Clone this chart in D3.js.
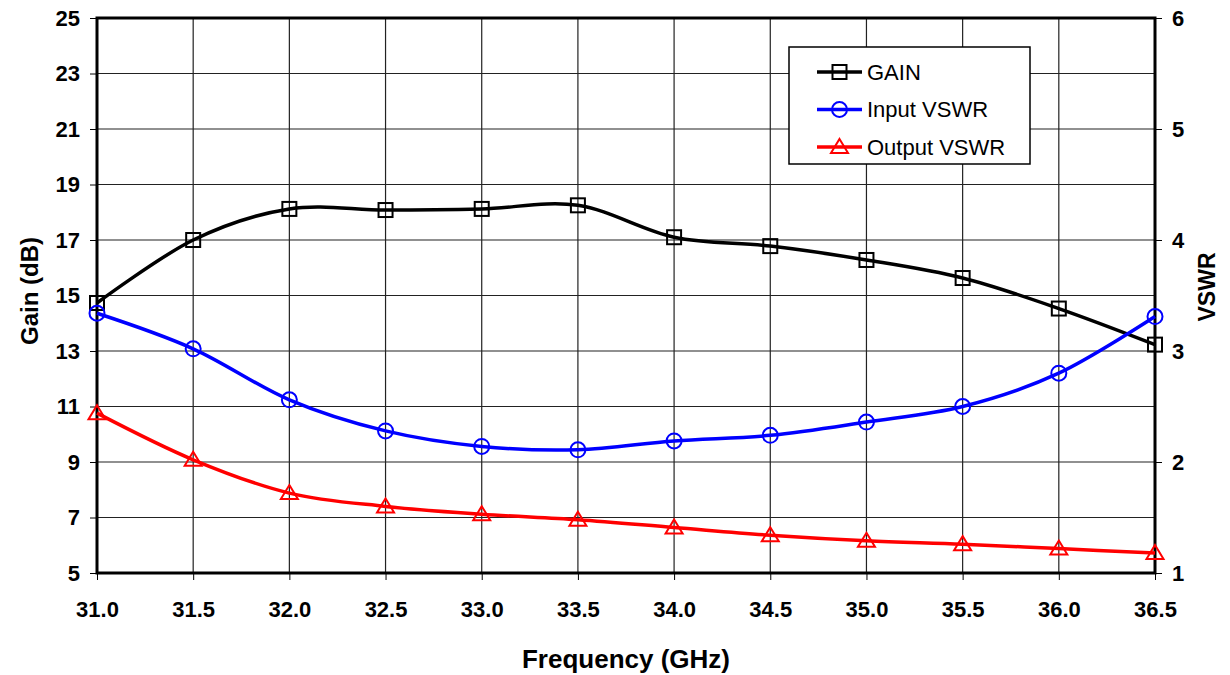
<!DOCTYPE html>
<html>
<head>
<meta charset="utf-8">
<script src="https://cdn.jsdelivr.net/npm/d3@7"></script>
<style>
  body { margin: 0; background: #fff; }
  svg { font-family: "Liberation Sans", Arial, sans-serif; }
</style>
</head>
<body>
<div id="chart"></div>
<script>
const freqs = [31.0, 31.5, 32.0, 32.5, 33.0, 33.5, 34.0, 34.5, 35.0, 35.5, 36.0, 36.5];
const gain = [14.73, 17.0, 18.12, 18.08, 18.12, 18.25, 17.1, 16.78, 16.28, 15.63, 14.53, 13.23];
const inputVswr = [3.34, 3.02, 2.56, 2.28, 2.14, 2.11, 2.19, 2.24, 2.36, 2.50, 2.80, 3.31];
const outputVswr = [2.44, 2.02, 1.72, 1.60, 1.53, 1.48, 1.41, 1.34, 1.29, 1.26, 1.22, 1.18];
const gainTicks = [5, 7, 9, 11, 13, 15, 17, 19, 21, 23, 25];
const vswrTicks = [1, 2, 3, 4, 5, 6];

const width = 1230, height = 675;
const margin = { top: 18, right: 75, bottom: 102, left: 97 };

const svg = d3.select("#chart")
    .append("svg")
    .attr("width", width)
    .attr("height", height);

const x = d3.scaleLinear().domain([31, 36.5]).range([margin.left, width - margin.right]);
const yL = d3.scaleLinear().domain([5, 25]).range([height - margin.bottom, margin.top]);
const yR = d3.scaleLinear().domain([1, 6]).range([height - margin.bottom, margin.top]);

// grid
svg.append("g")
    .selectAll("line")
    .data(freqs)
    .enter()
    .append("line")
    .attr("x1", d => x(d)).attr("x2", d => x(d))
    .attr("y1", margin.top).attr("y2", height - margin.bottom)
    .attr("stroke", "#222").attr("stroke-width", 1.2);

svg.append("g")
    .selectAll("line")
    .data(gainTicks)
    .enter()
    .append("line")
    .attr("x1", margin.left).attr("x2", width - margin.right)
    .attr("y1", d => yL(d)).attr("y2", d => yL(d))
    .attr("stroke", "#222").attr("stroke-width", 1.2);

// axes
const xAxis = svg.append("g")
    .attr("transform", `translate(0,${height - margin.bottom})`)
    .call(d3.axisBottom(x).tickValues(freqs).tickFormat(d3.format(".1f")).tickSize(7).tickPadding(21));
const yAxisL = svg.append("g")
    .attr("transform", `translate(${margin.left},0)`)
    .call(d3.axisLeft(yL).tickValues(gainTicks).tickSize(7).tickPadding(10));
const yAxisR = svg.append("g")
    .attr("transform", `translate(${width - margin.right},0)`)
    .call(d3.axisRight(yR).tickValues(vswrTicks).tickFormat(d3.format("d")).tickSize(7).tickPadding(10));

[xAxis, yAxisL, yAxisR].forEach(g => {
    g.select(".domain").remove();
    g.selectAll("text")
        .style("font-family", "'Liberation Sans', Arial, sans-serif")
        .style("font-size", "22px")
        .style("font-weight", "bold")
        .attr("fill", "#000");
    g.selectAll(".tick line").attr("stroke", "#000");
});

// frame
svg.append("rect")
    .attr("x", margin.left).attr("y", margin.top)
    .attr("width", width - margin.left - margin.right)
    .attr("height", height - margin.top - margin.bottom)
    .attr("fill", "none").attr("stroke", "#000").attr("stroke-width", 3);

// axis titles
svg.append("text")
    .attr("x", 626)
    .attr("y", 668)
    .attr("text-anchor", "middle")
    .style("font-size", "26px").style("font-weight", "bold")
    .text("Frequency (GHz)");

svg.append("text")
    .attr("transform", `translate(38,291) rotate(-90)`)
    .attr("text-anchor", "middle")
    .style("font-size", "24px").style("font-weight", "bold")
    .text("Gain (dB)");

svg.append("text")
    .attr("transform", `translate(1215,287) rotate(-90)`)
    .attr("text-anchor", "middle")
    .style("font-size", "23px").style("font-weight", "bold")
    .text("VSWR");

const series = [
    { name: "GAIN", values: gain, y: yL, color: "#000", marker: "square" },
    { name: "Input VSWR", values: inputVswr, y: yR, color: "#0000ff", marker: "circle" },
    { name: "Output VSWR", values: outputVswr, y: yR, color: "#ff0000", marker: "triangle" }
];

function drawMarker(g, type, color) {
    if (type === "square") {
        g.append("rect").attr("x", -7).attr("y", -7).attr("width", 14).attr("height", 14)
            .attr("fill", "none").attr("stroke", color).attr("stroke-width", 2);
    } else if (type === "circle") {
        g.append("circle").attr("r", 7.5)
            .attr("fill", "none").attr("stroke", color).attr("stroke-width", 2);
    } else {
        g.append("path").attr("d", "M0,-8L8.5,6L-8.5,6Z")
            .attr("fill", "none").attr("stroke", color).attr("stroke-width", 2);
    }
}

series.forEach(s => {
    const line = d3.line()
        .x((d, i) => x(freqs[i]))
        .y(d => s.y(d))
        .curve(d3.curveCatmullRom.alpha(0));
    svg.append("path")
        .datum(s.values)
        .attr("d", line)
        .attr("fill", "none")
        .attr("stroke", s.color)
        .attr("stroke-width", 3.5);
    s.values.forEach((v, i) => {
        const g = svg.append("g").attr("transform", `translate(${x(freqs[i])},${s.y(v)})`);
        drawMarker(g, s.marker, s.color);
    });
});

// legend
const legend = svg.append("g");
legend.append("rect")
    .attr("x", 789).attr("y", 47).attr("width", 241).attr("height", 117)
    .attr("fill", "#fff").attr("stroke", "#000").attr("stroke-width", 1.5);
series.forEach((s, i) => {
    const cy = 72 + i * 37.5;
    legend.append("line")
        .attr("x1", 817).attr("x2", 862).attr("y1", cy).attr("y2", cy)
        .attr("stroke", s.color).attr("stroke-width", 3.5);
    const g = legend.append("g").attr("transform", `translate(839.5,${cy})`);
    drawMarker(g, s.marker, s.color);
    legend.append("text")
        .attr("x", 867).attr("y", cy + 7.5)
        .style("font-size", "22px")
        .text(s.name);
});
</script>
</body>
</html>
